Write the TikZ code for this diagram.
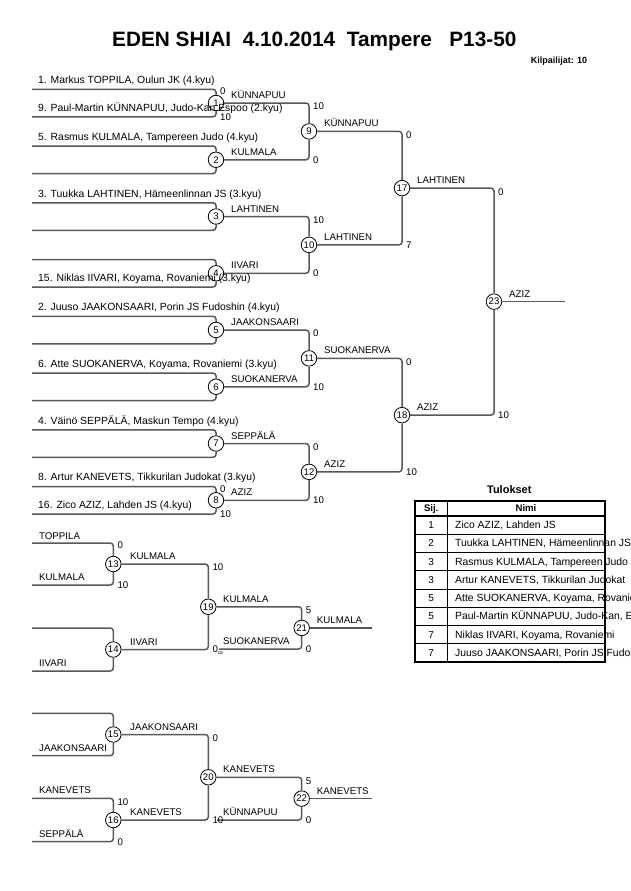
\documentclass[tikz,border=0pt]{standalone}
\usepackage{fontspec}
\setmainfont{Liberation Sans}
\begin{document}
\begin{tikzpicture}[x=1pt,y=-1pt,
  br/.style={draw=black!65, line width=1.5pt, rounded corners=3pt},
  mc/.style={circle, draw=black, line width=0.8pt, fill=white, minimum size=15.5pt, inner sep=0pt, font=\fontsize{9.6}{11}\selectfont},
  pn/.style={anchor=base west, inner sep=0pt, font=\fontsize{10.4}{12}\selectfont},
  wl/.style={anchor=base west, inner sep=0pt, font=\fontsize{9.7}{11}\selectfont},
  sct/.style={anchor=north west, inner sep=0pt, font=\fontsize{9.7}{11}\selectfont},
  scb/.style={anchor=west, inner sep=0pt, font=\fontsize{9.7}{11}\selectfont},
  tb/.style={draw=black, line width=1.6pt},
  tl/.style={draw=black, line width=0.8pt},
  tn/.style={anchor=base, inner sep=0pt, font=\fontsize{10}{12}\selectfont},
  tt/.style={anchor=base west, inner sep=0pt, font=\fontsize{10.4}{12}\selectfont},
  th/.style={anchor=base, inner sep=0pt, font=\fontsize{9.6}{11}\selectfont\bfseries},
]
\clip (0,0) rectangle (630,891);
\fill[white] (0,0) rectangle (630,891);

% title
\node[anchor=base west, inner sep=0pt, font=\fontsize{20.8}{24}\selectfont\bfseries] (title) at (112,47) {EDEN SHIAI\ \ 4.10.2014\ \ Tampere\ \ \ P13-50};
\node[anchor=base east, inner sep=0pt, font=\fontsize{9}{11}\selectfont\bfseries] (kilp) at (587.3,63.3) {Kilpailijat: 10};

% ---------------- main bracket: circles ----------------
\node[mc] (m1) at (216,103) {1};
\node[mc] (m2) at (216,159.75) {2};
\node[mc] (m3) at (216,216.5) {3};
\node[mc] (m4) at (216,273.25) {4};
\node[mc] (m5) at (216,330) {5};
\node[mc] (m6) at (216,386.75) {6};
\node[mc] (m7) at (216,443.5) {7};
\node[mc] (m8) at (216,500.25) {8};
\node[mc] (m9) at (309,131.375) {9};
\node[mc] (m10) at (309,244.875) {10};
\node[mc] (m11) at (309,358.375) {11};
\node[mc] (m12) at (309,471.875) {12};
\node[mc] (m17) at (402,188.125) {17};
\node[mc] (m18) at (402,415.125) {18};
\node[mc] (m23) at (494,301.625) {23};

% line starts
\coordinate (a1) at (32,89.25);  \coordinate (b1) at (32,116.75);
\coordinate (a2) at (32,146);    \coordinate (b2) at (32,173.5);
\coordinate (a3) at (32,202.75); \coordinate (b3) at (32,230.25);
\coordinate (a4) at (32,259.5);  \coordinate (b4) at (32,287);
\coordinate (a5) at (32,316.25); \coordinate (b5) at (32,343.75);
\coordinate (a6) at (32,373);    \coordinate (b6) at (32,400.5);
\coordinate (a7) at (32,429.75); \coordinate (b7) at (32,457.25);
\coordinate (a8) at (32,486.5);  \coordinate (b8) at (32,514);
\coordinate (f23) at (565,301.625);

\foreach \i in {1,...,8}{
  \draw[br] (a\i) -| (m\i);
  \draw[br] (b\i) -| (m\i);
}
\draw[br] (m1) -| (m9);  \draw[br] (m2) -| (m9);
\draw[br] (m3) -| (m10); \draw[br] (m4) -| (m10);
\draw[br] (m5) -| (m11); \draw[br] (m6) -| (m11);
\draw[br] (m7) -| (m12); \draw[br] (m8) -| (m12);
\draw[br] (m9) -| (m17); \draw[br] (m10) -| (m17);
\draw[br] (m11) -| (m18); \draw[br] (m12) -| (m18);
\draw[br] (m17) -| (m23); \draw[br] (m18) -| (m23);
\draw[br] (m23) -- (f23);

% player names
\node[pn] (p1) at (38,83.5) {1. Markus TOPPILA, Oulun JK (4.kyu)};
\node[pn] (p9) at (38,111) {9. Paul-Martin KÜNNAPUU, Judo-Kan Espoo (2.kyu)};
\node[pn] (p5) at (38,140.3) {5. Rasmus KULMALA, Tampereen Judo (4.kyu)};
\node[pn] (p3) at (38,197) {3. Tuukka LAHTINEN, Hämeenlinnan JS (3.kyu)};
\node[pn] (p15) at (38,281.5) {15. Niklas IIVARI, Koyama, Rovaniemi (3.kyu)};
\node[pn] (p2) at (38,310.5) {2. Juuso JAAKONSAARI, Porin JS Fudoshin (4.kyu)};
\node[pn] (p6) at (38,367.3) {6. Atte SUOKANERVA, Koyama, Rovaniemi (3.kyu)};
\node[pn] (p4) at (38,424) {4. Väinö SEPPÄLÄ, Maskun Tempo (4.kyu)};
\node[pn] (p8) at (38,480.8) {8. Artur KANEVETS, Tikkurilan Judokat (3.kyu)};
\node[pn] (p16) at (38,508.5) {16. Zico AZIZ, Lahden JS (4.kyu)};

% winner labels
\node[wl] (w1) at (231,98.5) {KÜNNAPUU};
\node[wl] (w2) at (231,155.25) {KULMALA};
\node[wl] (w3) at (231,212) {LAHTINEN};
\node[wl] (w4) at (231,268.75) {IIVARI};
\node[wl] (w5) at (231,325.5) {JAAKONSAARI};
\node[wl] (w6) at (231,382.25) {SUOKANERVA};
\node[wl] (w7) at (231,439) {SEPPÄLÄ};
\node[wl] (w8) at (231,495.75) {AZIZ};
\node[wl] (w9) at (324,126.9) {KÜNNAPUU};
\node[wl] (w10) at (324,240.4) {LAHTINEN};
\node[wl] (w11) at (324,353.9) {SUOKANERVA};
\node[wl] (w12) at (324,467.4) {AZIZ};
\node[wl] (w17) at (417,183.6) {LAHTINEN};
\node[wl] (w18) at (417,410.6) {AZIZ};
\node[wl] (w23) at (509,297.1) {AZIZ};

% scores
\node[sct] (s1t) at (220,88) {0};    \node[scb] (s1b) at (220,116.75) {10};
\node[sct] (s8t) at (220,485.5) {0};  \node[scb] (s8b) at (220,514) {10};
\node[sct] (s9t) at (313,103) {10};  \node[scb] (s9b) at (313,159.75) {0};
\node[sct] (s10t) at (313,216.5) {10}; \node[scb] (s10b) at (313,273.25) {0};
\node[sct] (s11t) at (313,330) {0};  \node[scb] (s11b) at (313,386.75) {10};
\node[sct] (s12t) at (313,443.5) {0}; \node[scb] (s12b) at (313,500.25) {10};
\node[sct] (s17t) at (406,131.375) {0}; \node[scb] (s17b) at (406,244.875) {7};
\node[sct] (s18t) at (406,358.375) {0}; \node[scb] (s18b) at (406,471.875) {10};
\node[sct] (s23t) at (498,188.125) {0}; \node[scb] (s23b) at (498,415.125) {10};

% ---------------- repechage ----------------
\node[mc] (m13) at (113.3,564) {13};
\node[mc] (m14) at (113.3,649.5) {14};
\node[mc] (m19) at (208.3,606.75) {19};
\node[mc] (m21) at (301.7,627.9) {21};
\node[mc] (m15) at (113.3,734.5) {15};
\node[mc] (m16) at (113.3,820) {16};
\node[mc] (m20) at (208.3,777.25) {20};
\node[mc] (m22) at (301.7,798.6) {22};

\coordinate (a13) at (32,543);   \coordinate (b13) at (32,585);
\coordinate (a14) at (32,628);   \coordinate (b14) at (32,671);
\coordinate (a15) at (32,713.3); \coordinate (b15) at (32,755.7);
\coordinate (a16) at (32,798.3); \coordinate (b16) at (32,841.7);
\coordinate (s21) at (219,649);
\coordinate (s22) at (217,820);
\coordinate (f21) at (371.7,627.9);
\coordinate (f22) at (371.7,798.6);

\foreach \i in {13,14,15,16}{
  \draw[br] (a\i) -| (m\i);
  \draw[br] (b\i) -| (m\i);
}
\draw[br] (m13) -| (m19); \draw[br] (m14) -| (m19);
\draw[br] (m19) -| (m21); \draw[br] (s21) -| (m21);
\draw[br] (m21) -- (f21);
\draw[br] (m15) -| (m20); \draw[br] (m16) -| (m20);
\draw[br] (m20) -| (m22); \draw[br] (s22) -| (m22);
\draw[br] (m22) -- (f22);

% names
\node[wl] (r1) at (39,539) {TOPPILA};
\node[wl] (r2) at (39,580.5) {KULMALA};
\node[wl] (r3) at (39,666.5) {IIVARI};
\node[wl] (r4) at (39,751.5) {JAAKONSAARI};
\node[wl] (r5) at (39,793.5) {KANEVETS};
\node[wl] (r6) at (39,837) {SEPPÄLÄ};
\node[wl] (w13) at (130,559.5) {KULMALA};
\node[wl] (w14) at (130,645) {IIVARI};
\node[wl] (w19) at (223,602.2) {KULMALA};
\node[wl] (l21) at (223,644.5) {SUOKANERVA};
\node[wl] (w21) at (316.7,623.4) {KULMALA};
\node[wl] (w15) at (130,730) {JAAKONSAARI};
\node[wl] (w16) at (130,815.5) {KANEVETS};
\node[wl] (w20) at (223,772.7) {KANEVETS};
\node[wl] (l22) at (223,815.5) {KÜNNAPUU};
\node[wl] (w22) at (316.7,794) {KANEVETS};

% scores
\node[sct] (s13t) at (117.3,542) {0};   \node[scb] (s13b) at (117.3,585) {10};
\node[sct] (s19t) at (212.3,564) {10};
\node[scb] (s19b) at (212.3,650) {0\raisebox{-1.5pt}{\fontsize{4.5}{5}\selectfont 18}};
\node[sct] (s21t) at (305.7,606.75) {5}; \node[scb] (s21b) at (305.7,649) {0};
\node[sct] (s16t) at (117.3,798.3) {10}; \node[scb] (s16b) at (117.3,841.7) {0};
\node[sct] (s20t) at (212.3,734.5) {0};  \node[scb] (s20b) at (212.3,820) {10};
\node[sct] (s22t) at (305.7,777.25) {5}; \node[scb] (s22b) at (305.7,820) {0};

% ---------------- results table ----------------
\node[anchor=base, inner sep=0pt, font=\fontsize{11}{13}\selectfont\bfseries] (tul) at (509.3,493.3) {Tulokset};
\foreach \y in {534,552.3,570.6,588.9,607.2,625.5,643.8}{
  \draw[tl] (415,\y) -- (605,\y);
}
\draw[tl] (447.3,501) -- (447.3,662.1);
\draw[tb] (415,515.7) -- (605,515.7);
\draw[tb] (415,501) rectangle (605,662.1);
\node[th] (h1) at (431.2,511.7) {Sij.};
\node[th] (h2) at (526,511.7) {Nimi};
\node[tn] at (431.2,528.4) {1};  \node[tt] at (455,528.4) {Zico AZIZ, Lahden JS};
\node[tn] at (431.2,546.7) {2};  \node[tt] at (455,546.7) {Tuukka LAHTINEN, Hämeenlinnan JS};
\node[tn] at (431.2,565) {3};    \node[tt] at (455,565) {Rasmus KULMALA, Tampereen Judo};
\node[tn] at (431.2,583.3) {3};  \node[tt] at (455,583.3) {Artur KANEVETS, Tikkurilan Judokat};
\node[tn] at (431.2,601.6) {5};  \node[tt] at (455,601.6) {Atte SUOKANERVA, Koyama, Rovaniemi};
\node[tn] at (431.2,619.9) {5};  \node[tt] at (455,619.9) {Paul-Martin KÜNNAPUU, Judo-Kan, Espoo};
\node[tn] at (431.2,638.2) {7};  \node[tt] at (455,638.2) {Niklas IIVARI, Koyama, Rovaniemi};
\node[tn] at (431.2,656.5) {7};  \node[tt] at (455,656.5) {Juuso JAAKONSAARI, Porin JS Fudoshin};
\end{tikzpicture}
\end{document}
